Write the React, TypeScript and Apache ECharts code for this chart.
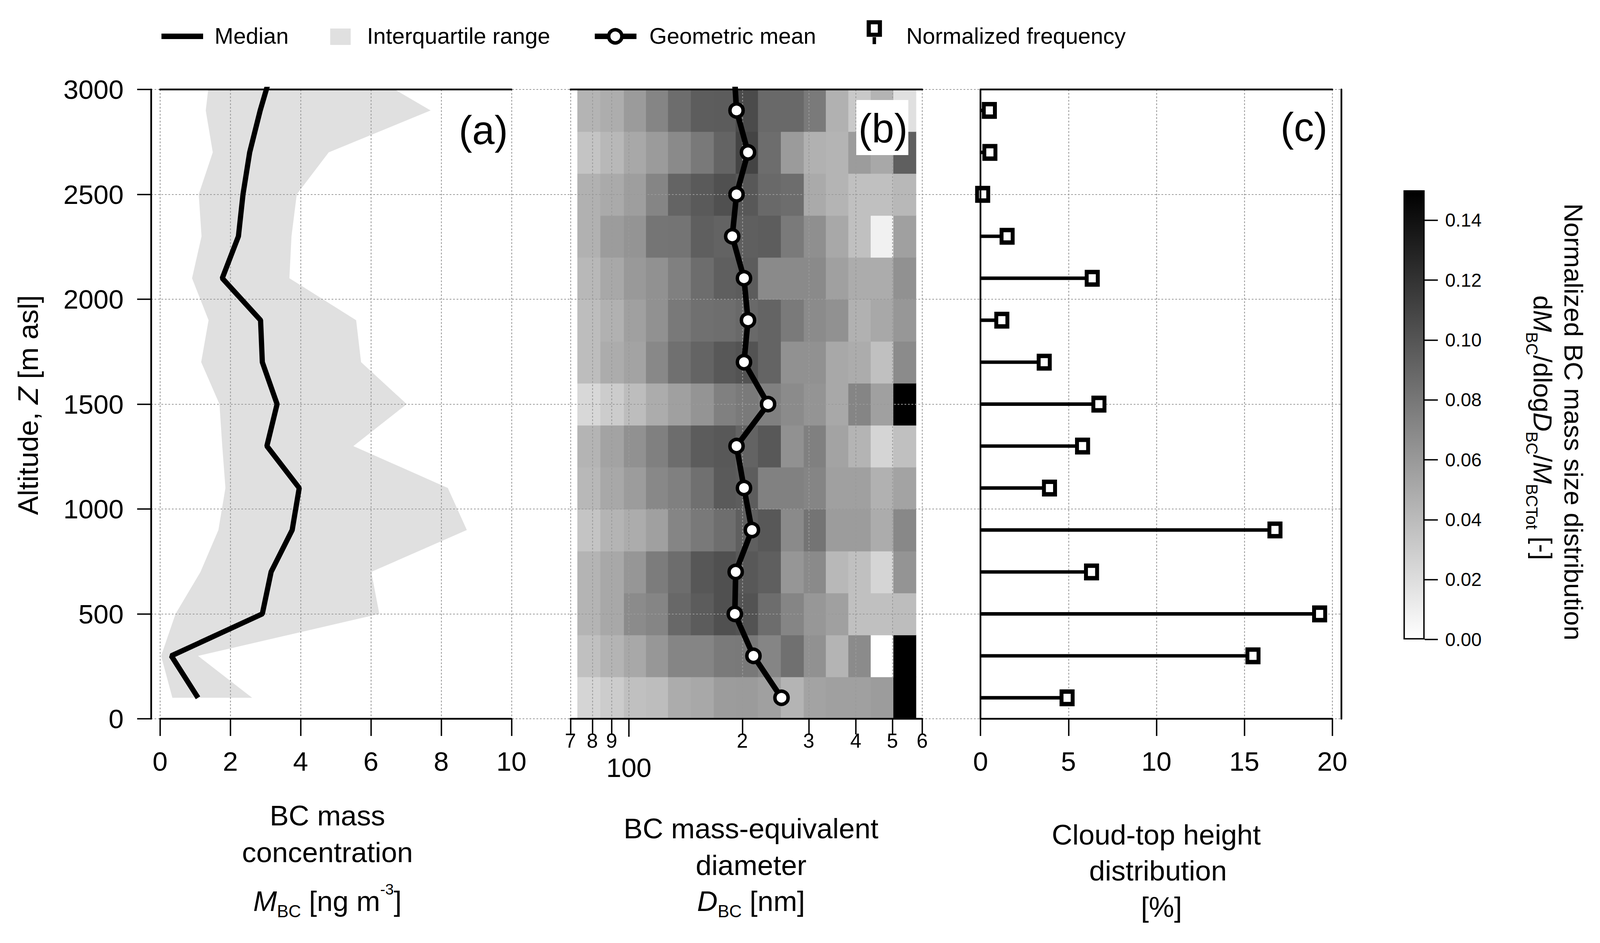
import { useEffect, useRef } from 'react';
import * as echarts from 'echarts';

const FONT = 'Liberation Sans, Arial, Helvetica, sans-serif';

// altitude bins [m asl]; 3100 is the point above the frame that the profile lines run to
const altitudes = [100, 300, 500, 700, 900, 1100, 1300, 1500, 1700, 1900, 2100, 2300, 2500, 2700, 2900];
const profileAltitudes = [100, 300, 500, 700, 900, 1100, 1300, 1500, 1700, 1900, 2100, 2300, 2500, 2700, 2900, 3100];
const altEdges = [0, 200, 400, 600, 800, 1000, 1200, 1400, 1600, 1800, 2000, 2200, 2400, 2600, 2800, 3000];

// (a) BC mass concentration [ng m-3]
const medianMBC = [1.08, 0.32, 2.91, 3.16, 3.76, 3.96, 3.04, 3.33, 2.91, 2.86, 1.77, 2.23, 2.36, 2.55, 2.85, 3.2];
const q25MBC = [0.35, 0.03, 0.44, 1.15, 1.66, 1.86, 1.77, 1.69, 1.17, 1.38, 0.91, 1.18, 1.1, 1.5, 1.3, 1.44];
const q75MBC = [2.62, 1.08, 6.24, 6.01, 8.73, 8.19, 5.5, 7.02, 5.72, 5.58, 3.68, 3.74, 3.89, 4.8, 7.7, 5.65];

// (b) size distribution: diameter bin edges [nm], rows from the lowest altitude bin up
const diamEdges = [73, 84, 97, 111, 127, 146, 168, 192, 220, 253, 291, 333, 382, 438, 503, 577];
const sizeDist = [
  [0.025, 0.030, 0.037, 0.039, 0.049, 0.051, 0.058, 0.059, 0.056, 0.044, 0.054, 0.056, 0.056, 0.058, 0.150],
  [0.037, 0.044, 0.051, 0.061, 0.072, 0.072, 0.078, 0.079, 0.072, 0.084, 0.065, 0.044, 0.068, 0.000, 0.150],
  [0.044, 0.051, 0.068, 0.072, 0.089, 0.096, 0.103, 0.101, 0.086, 0.072, 0.061, 0.056, 0.037, 0.037, 0.039],
  [0.044, 0.051, 0.062, 0.077, 0.086, 0.099, 0.103, 0.098, 0.094, 0.062, 0.069, 0.042, 0.037, 0.025, 0.063],
  [0.035, 0.044, 0.049, 0.056, 0.072, 0.079, 0.085, 0.094, 0.098, 0.069, 0.082, 0.058, 0.058, 0.049, 0.070],
  [0.042, 0.051, 0.058, 0.070, 0.075, 0.084, 0.097, 0.095, 0.074, 0.074, 0.072, 0.056, 0.056, 0.046, 0.054],
  [0.044, 0.054, 0.065, 0.075, 0.086, 0.096, 0.098, 0.092, 0.098, 0.065, 0.075, 0.054, 0.044, 0.025, 0.037],
  [0.023, 0.030, 0.039, 0.049, 0.056, 0.063, 0.075, 0.078, 0.075, 0.068, 0.063, 0.051, 0.072, 0.056, 0.150],
  [0.039, 0.049, 0.054, 0.070, 0.084, 0.091, 0.098, 0.101, 0.091, 0.065, 0.065, 0.051, 0.049, 0.037, 0.068],
  [0.039, 0.046, 0.056, 0.065, 0.079, 0.084, 0.085, 0.088, 0.091, 0.078, 0.068, 0.065, 0.046, 0.051, 0.061],
  [0.042, 0.051, 0.060, 0.065, 0.075, 0.086, 0.094, 0.096, 0.069, 0.069, 0.069, 0.056, 0.049, 0.049, 0.065],
  [0.046, 0.058, 0.063, 0.081, 0.082, 0.094, 0.092, 0.094, 0.095, 0.078, 0.066, 0.051, 0.037, 0.008, 0.056],
  [0.046, 0.050, 0.057, 0.072, 0.091, 0.097, 0.103, 0.098, 0.088, 0.086, 0.050, 0.044, 0.037, 0.037, 0.042],
  [0.035, 0.042, 0.051, 0.059, 0.069, 0.079, 0.091, 0.110, 0.086, 0.059, 0.046, 0.044, 0.058, 0.051, 0.094],
  [0.044, 0.048, 0.059, 0.072, 0.086, 0.095, 0.096, 0.106, 0.088, 0.088, 0.078, 0.046, 0.032, 0.044, 0.018],
];
// geometric mean diameter [nm] at profileAltitudes
const geoMeanD = [254, 214, 191, 192, 212, 202, 193, 234, 202, 207, 202, 188, 193, 207, 193, 190];
const diamMinorTicks = [70, 80, 90, 200, 300, 400, 500, 600];
const diamMajorTicks = [100];

// (c) cloud-top height distribution [%]
const cloudTop = [4.92, 15.49, 19.28, 6.31, 16.74, 3.92, 5.8, 6.73, 3.62, 1.21, 6.35, 1.51, 0.12, 0.53, 0.5];

const cbTicks = [0, 0.02, 0.04, 0.06, 0.08, 0.1, 0.12, 0.14];

// the layout is measured on a 4608 x 2414 page and stretched to the real one
const W = 4608;
const H = 2414;

const buildOption = (sx: number, sy: number) => {
  const px = (v: number) => v * sx;
  const py = (v: number) => v * sy;
  const pf = (v: number) => v * Math.min(sx, sy);
  const black = { color: '#000', width: pf(5) };
  const tickStyle = { color: '#000', width: pf(4) };
  const dotted = { show: true, lineStyle: { color: '#9a9a9a', width: pf(2.5), type: [pf(5), pf(5)] } };
  const off = { show: false };

  const lineOnly = (gridIndex: number, position: string, offset = 0) => ({
    gridIndex, type: 'value', position, offset: px(offset), min: 0, max: 1, z: 1,
    axisLine: { show: true, onZero: false, lineStyle: black },
    axisTick: off, axisLabel: off, splitLine: off,
  });

  const txt = (text: string, x: number, y: number, fontSize: number, align = 'left', rotation = 0) => ({
    type: 'text', x: px(x), y: py(y), z: 100, rotation,
    style: {
      text, fontSize: pf(fontSize), fontFamily: FONT, fill: '#000',
      textAlign: align, textVerticalAlign: 'middle',
    },
  });

  const richSet = (size: number, sub: number, lh: number) => ({
    n: { fontSize: pf(size), fontFamily: FONT, lineHeight: pf(lh), fill: '#000' },
    i: { fontSize: pf(size), fontFamily: FONT, fontStyle: 'italic', lineHeight: pf(lh), fill: '#000' },
    s: { fontSize: pf(sub), fontFamily: FONT, verticalAlign: 'bottom', lineHeight: pf(sub), fill: '#000' },
    p: { fontSize: pf(44), fontFamily: FONT, verticalAlign: 'top', lineHeight: pf(44), fill: '#000' },
  });

  const richTxt = (text: string, x: number, y: number, rich: any, rotation = 0) => ({
    type: 'text', x: px(x), y: py(y), z: 100, rotation,
    style: { text, rich, textAlign: 'center', textVerticalAlign: 'middle' },
  });

  const cells: number[][] = [];
  sizeDist.forEach((row, r) => {
    row.forEach((v, c) => {
      cells.push([diamEdges[c], diamEdges[c + 1], altEdges[r], altEdges[r + 1], v]);
    });
  });

  const gridBox = (left: number, top: number, width: number, height: number) => ({
    left: px(left), top: py(top), width: px(width), height: py(height), outerBoundsMode: 'none',
  });

  return {
    animation: false,
    backgroundColor: '#fff',
    textStyle: { fontFamily: FONT },
    grid: [
      gridBox(435, 229, 3428, 1611),
      gridBox(461, 229, 1012, 1611),
      gridBox(1643, 229, 1013, 1611),
      gridBox(2824, 229, 1013, 1611),
      gridBox(4042, 487, 61, 1150),
    ],
    xAxis: [
      { gridIndex: 0, type: 'value', min: 0, max: 1, show: false },
      {
        gridIndex: 1, type: 'value', position: 'bottom', min: 0, max: 10, interval: 2, z: 1,
        axisLine: { show: true, onZero: false, lineStyle: black },
        axisTick: { show: true, length: py(44), lineStyle: tickStyle },
        axisLabel: { margin: py(74), fontSize: pf(78), color: '#000', fontFamily: FONT },
        splitLine: dotted,
      },
      lineOnly(1, 'top'),
      {
        gridIndex: 2, type: 'log', logBase: 10, position: 'bottom', min: 70, max: 600, z: 1,
        axisLine: { show: true, onZero: false, lineStyle: black },
        axisTick: { show: true, length: py(40), customValues: diamMinorTicks, lineStyle: tickStyle },
        axisLabel: {
          customValues: diamMinorTicks, margin: py(30), color: '#000', fontSize: pf(58), fontFamily: FONT,
          formatter: (v: number) => {
            const r = Math.round(v);
            return String(r < 100 ? r / 10 : r / 100);
          },
        },
        splitLine: dotted,
      },
      lineOnly(2, 'top'),
      {
        gridIndex: 3, type: 'value', position: 'bottom', min: 0, max: 20, interval: 5, z: 1,
        axisLine: { show: true, onZero: false, lineStyle: black },
        axisTick: { show: true, length: py(44), lineStyle: tickStyle },
        axisLabel: { margin: py(74), fontSize: pf(78), color: '#000', fontFamily: FONT },
        splitLine: dotted,
      },
      lineOnly(3, 'top'),
      { gridIndex: 4, type: 'category', data: ['cb'], show: false },
      {
        gridIndex: 2, type: 'log', logBase: 10, position: 'bottom', min: 70, max: 600, z: 1,
        axisLine: off,
        axisTick: { show: true, length: py(46), customValues: diamMajorTicks, lineStyle: tickStyle },
        axisLabel: {
          customValues: diamMajorTicks, margin: py(90), color: '#000', fontSize: pf(78), fontFamily: FONT,
          formatter: (v: number) => String(Math.round(v)),
        },
        splitLine: dotted,
      },
    ],
    yAxis: [
      {
        gridIndex: 0, type: 'value', min: 0, max: 3000, interval: 500, z: 1,
        axisLine: off, axisTick: off, axisLabel: off, splitLine: dotted,
      },
      {
        gridIndex: 1, type: 'value', position: 'left', offset: px(26), min: 0, max: 3000, interval: 500, z: 1,
        axisLine: { show: true, onZero: false, lineStyle: black },
        axisTick: { show: true, length: px(40), lineStyle: tickStyle },
        axisLabel: { margin: px(79), fontSize: pf(78), color: '#000', fontFamily: FONT, formatter: (v: number) => String(v) },
        splitLine: off,
      },
      { gridIndex: 2, type: 'value', min: 0, max: 3000, show: false },
      {
        gridIndex: 3, type: 'value', position: 'left', min: 0, max: 3000, z: 5,
        axisLine: { show: true, onZero: false, lineStyle: black },
        axisTick: off, axisLabel: off, splitLine: off,
      },
      { ...lineOnly(3, 'right', 26), min: 0, max: 3000 },
      {
        gridIndex: 4, type: 'value', position: 'right', min: 0, max: 0.15,
        axisLine: off,
        axisTick: { show: true, length: px(38), customValues: cbTicks, lineStyle: tickStyle },
        axisLabel: {
          customValues: cbTicks, margin: px(59), fontSize: pf(54), color: '#000', fontFamily: FONT,
          formatter: (v: number) => v.toFixed(2),
        },
        splitLine: off,
      },
    ],
    visualMap: [
      {
        type: 'continuous', show: false, min: 0, max: 0.15, dimension: 4, seriesIndex: 2,
        inRange: { color: ['#ffffff', '#000000'] },
      },
    ],
    series: [
      {
        name: 'Interquartile range', type: 'custom', coordinateSystem: 'cartesian2d',
        xAxisIndex: 1, yAxisIndex: 1, clip: true, z: 0, silent: true,
        data: [[0, 0]],
        renderItem: (_p: any, api: any) => {
          const pts: number[][] = [];
          for (let i = 0; i < profileAltitudes.length; i++) pts.push(api.coord([q25MBC[i], profileAltitudes[i]]));
          for (let i = profileAltitudes.length - 1; i >= 0; i--) pts.push(api.coord([q75MBC[i], profileAltitudes[i]]));
          return { type: 'polygon', shape: { points: pts }, style: { fill: '#e0e0e0' } };
        },
      },
      {
        name: 'Median', type: 'line', xAxisIndex: 1, yAxisIndex: 1, z: 3, silent: true,
        symbol: 'none', clip: true,
        lineStyle: { color: '#000', width: pf(15) },
        data: medianMBC.map((v, i) => [v, profileAltitudes[i]]),
      },
      {
        name: 'Size distribution', type: 'custom', coordinateSystem: 'cartesian2d',
        xAxisIndex: 3, yAxisIndex: 2, z: 0, silent: true,
        encode: { x: [0, 1], y: [2, 3] },
        data: cells,
        renderItem: (_p: any, api: any) => {
          const a = api.coord([api.value(0), api.value(3)]);
          const b = api.coord([api.value(1), api.value(2)]);
          return {
            type: 'rect',
            shape: { x: a[0], y: a[1], width: b[0] - a[0] + 1, height: b[1] - a[1] + 1 },
            style: { fill: api.visual('color') },
          };
        },
      },
      {
        name: 'Geometric mean', type: 'line', xAxisIndex: 3, yAxisIndex: 2, z: 3, silent: true,
        clip: true, symbol: 'circle', symbolSize: pf(38), showAllSymbol: true,
        itemStyle: { color: '#fff', borderColor: '#000', borderWidth: pf(10) },
        lineStyle: { color: '#000', width: pf(16) },
        data: geoMeanD.map((v, i) =>
          profileAltitudes[i] > 3000
            ? { value: [v, profileAltitudes[i]], symbol: 'none' }
            : { value: [v, profileAltitudes[i]] }
        ),
      },
      {
        name: 'Stems', type: 'custom', coordinateSystem: 'cartesian2d',
        xAxisIndex: 5, yAxisIndex: 3, z: 3, silent: true,
        data: cloudTop.map((v, i) => [v, altitudes[i]]),
        renderItem: (_p: any, api: any) => {
          const p0 = api.coord([0, api.value(1)]);
          const p1 = api.coord([api.value(0), api.value(1)]);
          return {
            type: 'line',
            shape: { x1: p0[0], y1: p0[1], x2: p1[0], y2: p1[1] },
            style: { stroke: '#000', lineWidth: pf(10) },
          };
        },
      },
      {
        name: 'Normalized frequency', type: 'scatter', xAxisIndex: 5, yAxisIndex: 3, z: 4, silent: true,
        symbol: 'rect', symbolSize: [px(32), py(32)],
        itemStyle: { color: '#fff', borderColor: '#000', borderWidth: pf(12), opacity: 1 },
        data: cloudTop.map((v, i) => [v, altitudes[i]]),
      },
      {
        name: 'Colour bar', type: 'bar', xAxisIndex: 7, yAxisIndex: 5, silent: true,
        barWidth: '100%',
        itemStyle: {
          color: new echarts.graphic.LinearGradient(0, 0, 0, 1, [
            { offset: 0, color: '#000' },
            { offset: 1, color: '#fff' },
          ]),
          borderColor: '#000', borderWidth: pf(4),
        },
        data: [0.15],
      },
    ],
    graphic: [
      // legend
      { type: 'line', z: 100, shape: { x1: px(465), y1: py(93), x2: px(585), y2: py(93) }, style: { stroke: '#000', lineWidth: pf(16) } },
      txt('Median', 618, 92, 65),
      { type: 'rect', z: 100, shape: { x: px(951), y: py(73), width: px(59), height: py(42) }, style: { fill: '#e0e0e0' } },
      txt('Interquartile range', 1057, 92, 65),
      { type: 'line', z: 100, shape: { x1: px(1713), y1: py(93), x2: px(1833), y2: py(93) }, style: { stroke: '#000', lineWidth: pf(16) } },
      { type: 'circle', z: 101, shape: { cx: px(1772), cy: py(93), r: pf(19) }, style: { fill: '#fff', stroke: '#000', lineWidth: pf(10) } },
      txt('Geometric mean', 1870, 92, 65),
      { type: 'line', z: 100, shape: { x1: px(2518), y1: py(95), x2: px(2518), y2: py(113) }, style: { stroke: '#000', lineWidth: pf(10) } },
      { type: 'rect', z: 101, shape: { x: px(2502), y: py(57), width: px(32), height: py(32) }, style: { fill: '#fff', stroke: '#000', lineWidth: pf(12) } },
      txt('Normalized frequency', 2610, 92, 65),
      // panel labels
      txt('(a)', 1463, 333, 116, 'right'),
      { type: 'rect', z: 99, shape: { x: px(2466), y: py(256), width: px(150), height: py(141) }, style: { fill: '#fff' } },
      txt('(b)', 2614, 328, 116, 'right'),
      txt('(c)', 3823, 325, 116, 'right'),
      // y axis title
      richTxt('{n|Altitude, }{i|Z}{n| [m asl]}', 80, 1037, richSet(82, 50, 100), Math.PI / 2),
      // x axis titles
      txt('BC mass', 943, 2087, 82, 'center'),
      txt('concentration', 943, 2181, 82, 'center'),
      richTxt('{i|M}{s|BC}{n| [ng m}{p|-3}{n|]}', 943, 2306, richSet(82, 50, 110)),
      txt('BC mass-equivalent', 2163, 2120, 82, 'center'),
      txt('diameter', 2163, 2214, 82, 'center'),
      richTxt('{i|D}{s|BC}{n| [nm]}', 2163, 2306, richSet(82, 50, 110)),
      txt('Cloud-top height', 3330, 2136, 82, 'center'),
      txt('distribution', 3335, 2228, 82, 'center'),
      txt('[%]', 3345, 2321, 82, 'center'),
      // colour bar title
      txt('Normalized BC mass size distribution', 4532, 1080, 76, 'center', -Math.PI / 2),
      richTxt(
        '{n|d}{i|M}{s|BC}{n|/dlog}{i|D}{s|BC}{n|/}{i|M}{s|BCTot}{n| [-]}',
        4443, 1095, richSet(76, 48, 110), -Math.PI / 2
      ),
    ],
  };
};

const App = () => {
  const ref = useRef<HTMLDivElement>(null);

  useEffect(() => {
    document.body.style.margin = '0';
    document.body.style.overflow = 'hidden';
    if (!ref.current) return;
    const el = ref.current;
    const chart = echarts.init(el, undefined, { renderer: 'svg' });
    chart.setOption(buildOption(el.clientWidth / W, el.clientHeight / H) as any);

    const handleResize = () => {
      chart.resize();
      chart.setOption(buildOption(el.clientWidth / W, el.clientHeight / H) as any, true);
    };
    window.addEventListener('resize', handleResize);

    return () => {
      window.removeEventListener('resize', handleResize);
      chart.dispose();
    };
  }, []);

  return <div ref={ref} style={{ width: '100vw', height: '100vh' }} />;
};

export default App;
